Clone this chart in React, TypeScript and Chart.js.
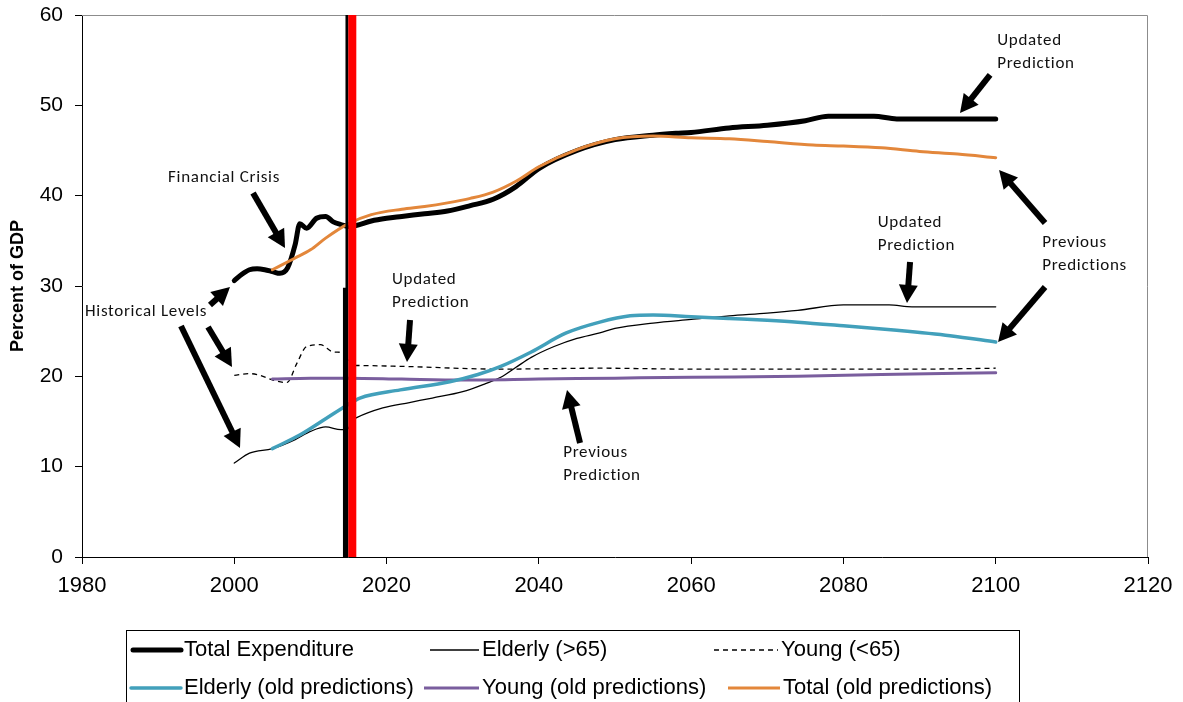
import React, { useEffect, useRef } from 'react';
import { Chart, registerables } from 'chart.js';

Chart.register(...registerables);

// ---------- data ----------
const totalYears = [2000, 2001, 2002, 2003, 2004, 2005, 2006, 2007, 2008, 2008.6, 2009.5, 2010.8, 2012, 2013, 2014, 2015, 2016, 2018, 2020, 2022, 2025, 2028, 2031, 2034, 2037, 2040, 2045, 2050, 2055, 2058, 2060, 2065, 2070, 2075, 2078, 2084, 2087, 2100];
const totalValues = [30.6, 31.3, 31.8, 31.9, 31.8, 31.6, 31.4, 32.0, 34.6, 36.9, 36.4, 37.5, 37.7, 37.1, 36.8, 36.6, 36.7, 37.2, 37.5, 37.7, 38.0, 38.3, 38.9, 39.6, 41.0, 43.0, 45.0, 46.2, 46.7, 46.9, 47.0, 47.5, 47.8, 48.3, 48.8, 48.8, 48.5, 48.5];

const elderlyYears = [2000, 2002, 2005, 2008, 2010, 2012, 2014, 2014.8, 2015.6, 2016, 2019.5, 2023, 2026, 2030, 2033, 2035, 2037, 2039, 2042, 2045, 2048, 2050, 2055, 2060, 2065, 2070, 2074, 2080, 2086, 2089, 2100];
const elderlyValues = [10.4, 11.5, 12.0, 13.0, 13.9, 14.4, 14.1, 14.1, 15.2, 15.4, 16.5, 17.1, 17.6, 18.3, 19.2, 19.9, 21.0, 22.1, 23.3, 24.2, 24.8, 25.3, 25.9, 26.3, 26.7, 27.0, 27.3, 27.9, 27.9, 27.7, 27.7];

const youngYears = [2000, 2002, 2003.4, 2005, 2006.9, 2008.2, 2009.5, 2011.3, 2013, 2014.5, 2015.6, 2016, 2022, 2035, 2048, 2060, 2070, 2080, 2090, 2100];
const youngValues = [20.1, 20.3, 20.1, 19.6, 19.3, 21.4, 23.3, 23.5, 22.7, 22.6, 21.2, 21.2, 21.1, 20.8, 20.9, 20.8, 20.8, 20.8, 20.8, 20.9];

const elderlyOldYears = [2005, 2008.6, 2012, 2014.8, 2016.5, 2021.8, 2028.3, 2032, 2035, 2039, 2043.6, 2048, 2052, 2055, 2060, 2065, 2070, 2074, 2080, 2087, 2094, 2100];
const elderlyOldValues = [12.0, 13.5, 15.3, 16.8, 17.6, 18.5, 19.4, 20.2, 21.1, 22.7, 24.8, 26.0, 26.7, 26.8, 26.6, 26.4, 26.2, 26.0, 25.6, 25.1, 24.5, 23.8];

const youngOldYears = [2005, 2010, 2015, 2022, 2030, 2040, 2050, 2060, 2074, 2085, 2100];
const youngOldValues = [19.7, 19.8, 19.8, 19.7, 19.6, 19.7, 19.8, 19.9, 20.0, 20.2, 20.4];

const totalOldYears = [2005, 2008, 2010, 2012, 2015, 2018, 2022, 2025, 2028, 2031, 2034, 2037, 2040, 2045, 2050, 2055, 2060, 2065, 2070, 2076, 2080, 2085, 2090, 2095, 2100];
const totalOldValues = [31.8, 33.1, 34.0, 35.3, 36.9, 37.9, 38.5, 38.8, 39.2, 39.7, 40.4, 41.6, 43.2, 45.1, 46.3, 46.6, 46.4, 46.3, 46.0, 45.6, 45.5, 45.3, 44.9, 44.6, 44.2];

// vertical marker lines (current year)
const redMarkerYears = [2015.5, 2015.5];
const redMarkerValues = [0, 60];
const blackMarkerYears = [2014.8, 2014.8];
const blackMarkerValues = [0, 60];
const blackMarkerThickYears = [2014.6, 2014.6];
const blackMarkerThickValues = [0, 29.8];

const xTicks = [1980, 2000, 2020, 2040, 2060, 2080, 2100, 2120];
const yTicks = [0, 10, 20, 30, 40, 50, 60];

const legendLabels = ['Total Expenditure', 'Elderly (>65)', 'Young (<65)', 'Elderly (old predictions)', 'Young (old predictions)', 'Total (old predictions)'];

// annotations: text lines anchored at (year, value), arrows from tail to tip
const annotationTexts: { lines: string[]; year: number; value: number }[] = [
  { lines: ['Financial Crisis'], year: 1991.3, value: 41.96 },
  { lines: ['Historical Levels'], year: 1980.4, value: 27.2 },
  { lines: ['Updated', 'Prediction'], year: 2020.7, value: 30.7 },
  { lines: ['Previous', 'Prediction'], year: 2043.2, value: 11.5 },
  { lines: ['Updated', 'Prediction'], year: 2084.5, value: 37.0 },
  { lines: ['Updated', 'Prediction'], year: 2100.2, value: 57.1 },
  { lines: ['Previous', 'Predictions'], year: 2106.1, value: 34.8 },
];
const arrowTails = [[2002.46, 40.3], [1996.81, 27.9], [1996.55, 25.46], [1993.0, 25.57], [2023.08, 26.24], [2045.41, 12.62], [2088.75, 32.66], [2099.26, 53.36], [2106.48, 36.97], [2106.48, 29.89]];
const arrowTips = [[2006.66, 34.21], [1999.44, 29.89], [1999.7, 21.03], [2000.75, 12.07], [2022.68, 21.59], [2043.7, 18.49], [2088.35, 28.12], [2095.31, 49.15], [2100.44, 42.84], [2100.31, 23.8]];

const pts = (xs: number[], ys: number[]) => xs.map((x, i) => ({ x, y: ys[i] }));

const ORANGE = '#E3873B';
const BLUE = '#42A0BB';
const PURPLE = '#7A5E9E';

const ARIAL = '"Liberation Sans", Arial, sans-serif';
const CALIBRI = 'Carlito, Lato, "Open Sans", sans-serif';

const legendSlots = [
  { x0: 133, x1: 181, tx: 184, y: 650 },
  { x0: 430, x1: 479, tx: 482, y: 650 },
  { x0: 714, x1: 778, tx: 781, y: 650 },
  { x0: 131, x1: 181, tx: 184, y: 688 },
  { x0: 424, x1: 479, tx: 482, y: 688 },
  { x0: 728, x1: 780, tx: 783, y: 688 },
];

function drawArrow(c: CanvasRenderingContext2D, x1: number, y1: number, x2: number, y2: number) {
  const ang = Math.atan2(y2 - y1, x2 - x1);
  const cos = Math.cos(ang);
  const sin = Math.sin(ang);
  const headLen = 18;
  const headW = 9.5;
  const bx = x2 - headLen * cos;
  const by = y2 - headLen * sin;
  c.strokeStyle = '#000';
  c.fillStyle = '#000';
  c.lineWidth = 6;
  c.lineCap = 'butt';
  c.beginPath();
  c.moveTo(x1, y1);
  c.lineTo(bx + 2 * cos, by + 2 * sin);
  c.stroke();
  c.beginPath();
  c.moveTo(x2, y2);
  c.lineTo(bx - headW * sin, by + headW * cos);
  c.lineTo(bx + headW * sin, by - headW * cos);
  c.closePath();
  c.fill();
}

const decorPlugin = {
  id: 'decor',
  beforeDatasetsDraw(chart: any) {
    const { ctx: c, chartArea: a } = chart;
    c.save();
    c.strokeStyle = '#8c8c8c';
    c.lineWidth = 1;
    c.beginPath();
    c.moveTo(a.left, a.top + 0.5);
    c.lineTo(a.right - 0.5, a.top + 0.5);
    c.lineTo(a.right - 0.5, a.bottom);
    c.stroke();
    c.restore();
  },
  afterDraw(chart: any) {
    const c: any = chart.ctx;
    const xs = chart.scales.x;
    const ys = chart.scales.y;
    c.save();
    // text annotations
    c.fillStyle = '#111';
    c.font = `17px ${CALIBRI}`;
    c.letterSpacing = '0.7px';
    c.textBaseline = 'middle';
    c.textAlign = 'left';
    annotationTexts.forEach((t) => {
      const px = xs.getPixelForValue(t.year);
      const py = ys.getPixelForValue(t.value);
      t.lines.forEach((ln, i) => c.fillText(ln, px, py + i * 23));
    });
    c.letterSpacing = '0px';
    // arrows
    arrowTails.forEach((tail, i) => {
      const tip = arrowTips[i];
      drawArrow(c, xs.getPixelForValue(tail[0]), ys.getPixelForValue(tail[1]), xs.getPixelForValue(tip[0]), ys.getPixelForValue(tip[1]));
    });
    // legend
    c.strokeStyle = '#000';
    c.lineWidth = 1;
    c.strokeRect(126.5, 630.5, 893, 100);
    c.font = `22px ${ARIAL}`;
    c.fillStyle = '#000';
    legendLabels.forEach((label, i) => {
      const ds = chart.data.datasets.find((d: any) => d.label === label);
      const s = legendSlots[i];
      c.save();
      c.strokeStyle = ds.borderColor;
      c.lineWidth = ds.borderWidth;
      c.lineCap = ds.borderWidth > 3 ? 'round' : 'butt';
      c.setLineDash(ds.borderDash || []);
      c.beginPath();
      c.moveTo(s.x0, s.y);
      c.lineTo(s.x1, s.y);
      c.stroke();
      c.restore();
      c.fillText(label, s.tx, s.y);
    });
    c.restore();
  },
};

export default function App() {
  const ref = useRef<HTMLCanvasElement>(null);
  useEffect(() => {
    const lineDs = (label: string, data: any[], color: string, width: number, order: number, extra: any = {}) => ({
      label,
      data,
      borderColor: color,
      backgroundColor: color,
      borderWidth: width,
      pointRadius: 0,
      fill: false,
      tension: 0.4,
      cubicInterpolationMode: 'monotone',
      borderCapStyle: 'round',
      borderJoinStyle: 'round',
      order,
      ...extra,
    });
    const chart = new Chart(ref.current as HTMLCanvasElement, {
      type: 'line',
      data: {
        datasets: [
          lineDs('marker-red', pts(redMarkerYears, redMarkerValues), '#FF0000', 8, 0, { tension: 0, borderCapStyle: 'butt' }),
          lineDs('marker-black', pts(blackMarkerYears, blackMarkerValues), '#000000', 3, 1, { tension: 0, borderCapStyle: 'butt' }),
          lineDs('marker-black-thick', pts(blackMarkerThickYears, blackMarkerThickValues), '#000000', 5, 1, { tension: 0, borderCapStyle: 'butt' }),
          lineDs('Total (old predictions)', pts(totalOldYears, totalOldValues), ORANGE, 3, 2),
          lineDs('Elderly (old predictions)', pts(elderlyOldYears, elderlyOldValues), BLUE, 3.5, 3),
          lineDs('Young (old predictions)', pts(youngOldYears, youngOldValues), PURPLE, 3, 4),
          lineDs('Total Expenditure', pts(totalYears, totalValues), '#000000', 5, 5),
          lineDs('Elderly (>65)', pts(elderlyYears, elderlyValues), '#000000', 1.3, 6),
          lineDs('Young (<65)', pts(youngYears, youngValues), '#000000', 1.3, 7, { borderDash: [5, 4], borderCapStyle: 'butt' }),
        ],
      },
      options: {
        animation: false,
        responsive: false,
        devicePixelRatio: 1,
        layout: { padding: { top: 15, right: 35, left: 0, bottom: 0 } },
        plugins: { legend: { display: false }, tooltip: { enabled: false }, title: { display: false } },
        scales: {
          x: {
            type: 'linear',
            min: xTicks[0],
            max: xTicks[xTicks.length - 1],
            afterBuildTicks: (s: any) => { s.ticks = xTicks.map((v) => ({ value: v })); },
            ticks: { color: '#000', font: { family: ARIAL, size: 22 }, padding: 9, maxRotation: 0, autoSkip: false, callback: (v: any) => String(v) },
            grid: { drawOnChartArea: false, drawTicks: true, tickLength: 7, color: '#000' },
            border: { display: true, color: '#000', width: 1 },
            afterFit: (s: any) => { s.height = 145; s.paddingLeft = 0; s.paddingRight = 0; },
          },
          y: {
            type: 'linear',
            min: yTicks[0],
            max: yTicks[yTicks.length - 1],
            afterBuildTicks: (s: any) => { s.ticks = yTicks.map((v) => ({ value: v })); },
            ticks: { color: '#000', font: { family: ARIAL, size: 21 }, padding: 12, callback: (v: any) => String(v) },
            grid: { drawOnChartArea: false, drawTicks: true, tickLength: 7, color: '#000' },
            border: { display: true, color: '#000', width: 1 },
            title: { display: true, text: 'Percent of GDP', color: '#000', font: { family: ARIAL, size: 18, weight: 'bold' }, padding: { top: 7, bottom: 0 } },
            afterFit: (s: any) => { s.width = 82; s.paddingTop = 0; s.paddingBottom = 0; },
          },
        },
      } as any,
      plugins: [decorPlugin],
    });
    return () => chart.destroy();
  }, []);
  return (
    <div style={{ position: 'fixed', left: 0, top: 0, width: 1183, height: 702, background: '#fff' }}>
      <canvas ref={ref} width={1183} height={702} />
    </div>
  );
}
